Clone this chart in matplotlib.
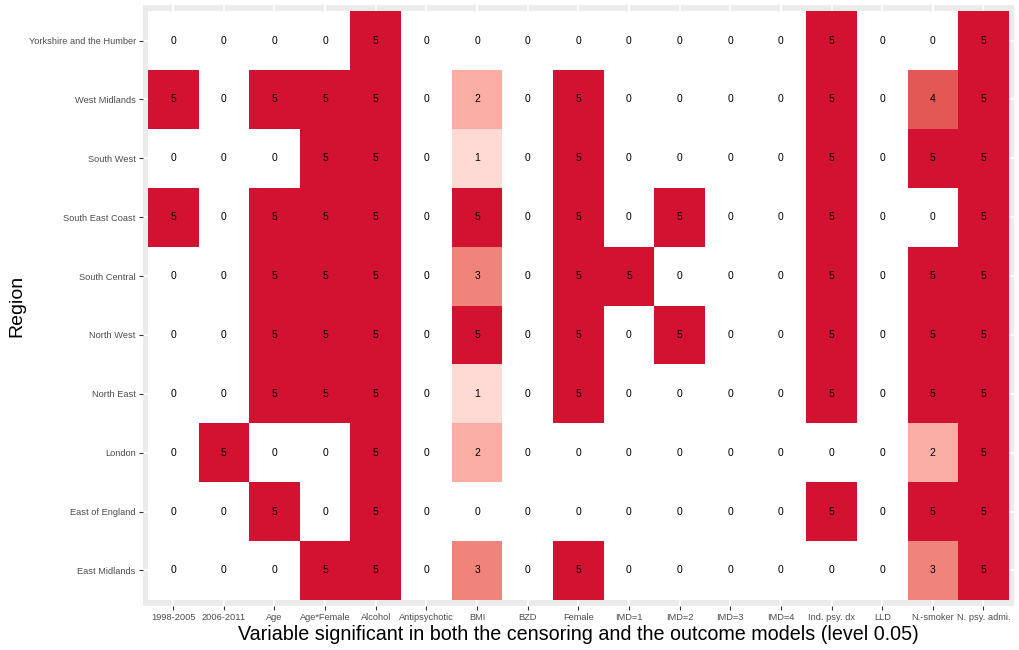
import numpy as np
import matplotlib
matplotlib.use("Agg")
import matplotlib.pyplot as plt
from matplotlib.colors import LinearSegmentedColormap

plt.rcParams['font.family'] = ['Liberation Sans', 'DejaVu Sans']

variables = ["1998-2005", "2006-2011", "Age", "Age*Female", "Alcohol", "Antipsychotic",
             "BMI", "BZD", "Female", "IMD=1", "IMD=2", "IMD=3", "IMD=4",
             "Ind. psy. dx", "LLD", "N.-smoker", "N. psy. admi."]

# bottom to top
regions = ["East Midlands", "East of England", "London", "North East", "North West",
           "South Central", "South East Coast", "South West", "West Midlands",
           "Yorkshire and the Humber"]

counts = [
    [0, 0, 0, 5, 5, 0, 3, 0, 5, 0, 0, 0, 0, 0, 0, 3, 5],  # East Midlands
    [0, 0, 5, 0, 5, 0, 0, 0, 0, 0, 0, 0, 0, 5, 0, 5, 5],  # East of England
    [0, 5, 0, 0, 5, 0, 2, 0, 0, 0, 0, 0, 0, 0, 0, 2, 5],  # London
    [0, 0, 5, 5, 5, 0, 1, 0, 5, 0, 0, 0, 0, 5, 0, 5, 5],  # North East
    [0, 0, 5, 5, 5, 0, 5, 0, 5, 0, 5, 0, 0, 5, 0, 5, 5],  # North West
    [0, 0, 5, 5, 5, 0, 3, 0, 5, 5, 0, 0, 0, 5, 0, 5, 5],  # South Central
    [5, 0, 5, 5, 5, 0, 5, 0, 5, 0, 5, 0, 0, 5, 0, 0, 5],  # South East Coast
    [0, 0, 0, 5, 5, 0, 1, 0, 5, 0, 0, 0, 0, 5, 0, 5, 5],  # South West
    [5, 0, 5, 5, 5, 0, 2, 0, 5, 0, 0, 0, 0, 5, 0, 4, 5],  # West Midlands
    [0, 0, 0, 0, 5, 0, 0, 0, 0, 0, 0, 0, 0, 5, 0, 0, 5],  # Yorkshire and the Humber
]

shades = ["#FFFFFF", "#FFD9D3", "#FAADA3", "#F0837A", "#E35855", "#D31130"]

data = np.array(counts)
cmap = LinearSegmentedColormap.from_list("reds", shades)

fig = plt.figure(figsize=(10.2, 6.5), dpi=100)
ax = fig.add_axes([0.140, 0.068, 0.854, 0.924])
ax.set_facecolor("#EBEBEB")

ax.pcolormesh(np.arange(len(variables) + 1) - 0.5, np.arange(len(regions) + 1) - 0.5,
              data, cmap=cmap, vmin=0, vmax=5, zorder=2)

for i in range(len(regions)):
    for j in range(len(variables)):
        ax.text(j, i, str(data[i, j]), ha="center", va="center", fontsize=7.5,
                color="black", zorder=3)

ax.set_xlim(-0.6, len(variables) - 0.4)
ax.set_ylim(-0.6, len(regions) - 0.4)
ax.set_xticks(range(len(variables)))
ax.set_xticklabels(variables)
ax.set_yticks(range(len(regions)))
ax.set_yticklabels(regions)
ax.grid(True, color="white", linewidth=1.1, zorder=1)
ax.set_axisbelow(True)
for s in ax.spines.values():
    s.set_visible(False)
ax.tick_params(axis="both", labelsize=6.7, labelcolor="#4D4D4D", color="#333333",
               length=3, width=0.8, pad=2)

ax.set_xlabel("Variable significant in both the censoring and the outcome models (level 0.05)",
              fontsize=14.2, labelpad=2)
ax.set_ylabel("Region", fontsize=14, labelpad=2)

fig.savefig("out.png", dpi=100)
